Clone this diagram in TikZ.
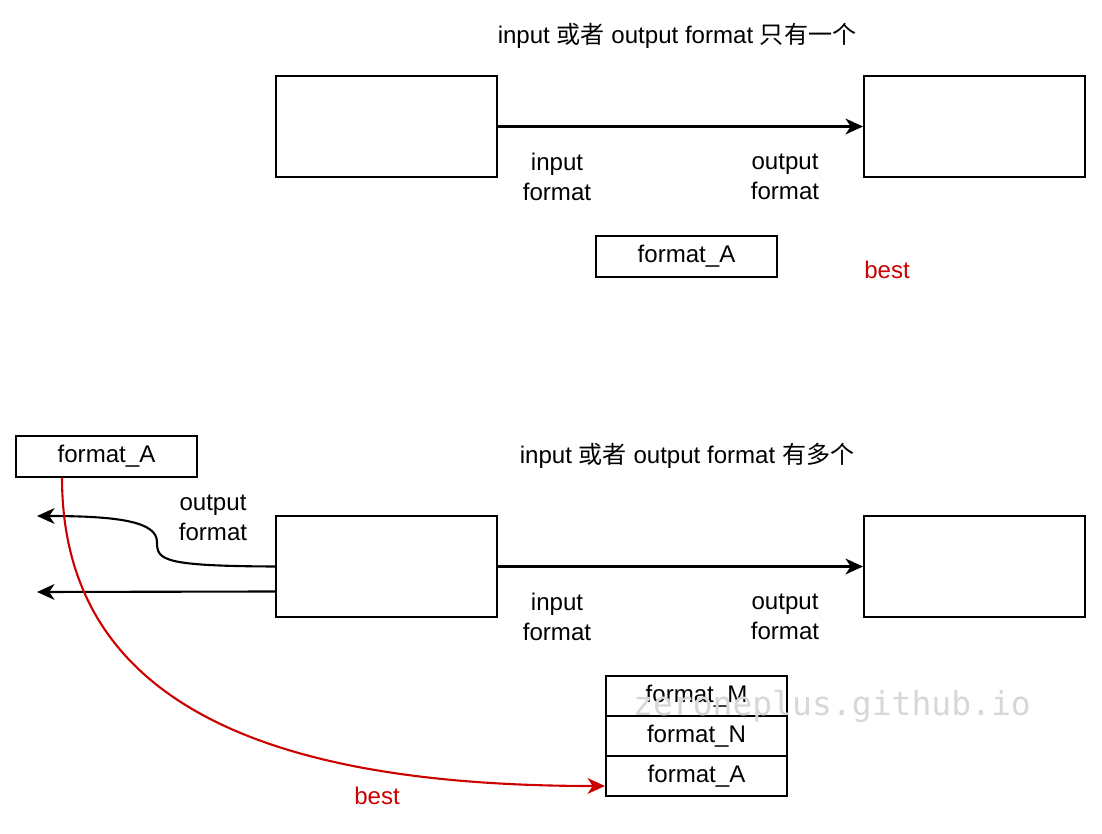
\documentclass[tikz,border=0pt]{standalone}
\usepackage{fontspec}
\setmainfont{Liberation Sans}
\newfontfamily\cjk{Noto Sans CJK SC}
\newfontfamily\wmfont{DejaVu Sans Mono}
\usetikzlibrary{arrows.meta}
\definecolor{bestred}{RGB}{204,0,0}
\definecolor{wmgray}{RGB}{215,215,215}
\tikzset{>/.tip={Stealth[length=10pt,width=9pt,inset=3pt]},
  txt/.style={font=\fontsize{13.7}{17}\selectfont, align=center, inner sep=0pt},
  blk/.style={draw, line width=1.1pt, minimum width=4.42cm, minimum height=2.02cm, inner sep=0pt},
  fmt/.style={txt, draw, line width=1.1pt, minimum width=3.62cm, minimum height=0.81cm},
  conn/.style={->, line width=1.2pt}}

\begin{document}
\begin{tikzpicture}[x=0.02cm, y=-0.02cm]
\useasboundingbox (0,0) rectangle (1102,834);
% top: one format
\node[txt] (title-1) at (677,36) {input {\cjk 或者} output format {\cjk 只有一个}};
\node[blk] (blk-1) at (386.5,126.5) {};
\node[blk] (blk-2) at (974.5,126.5) {};
\node[txt] (in-1) at (557,177) {input\\format};
\node[txt] (out-1) at (785,177) {output\\format};
\node[fmt] (fmtA-1) at (686.5,256.5) {format\_A};
\node[txt, text=bestred] (best-1) at (887,270) {best};

\draw[conn] (blk-1) -- (blk-2);

% bottom: several formats
\node[txt] (title-2) at (687,456) {input {\cjk 或者} output format {\cjk 有多个}};
\node[fmt] (fmtA-2) at (106.5,456.5) {format\_A};
\node[blk] (blk-3) at (386.5,566.5) {};
\node[blk] (blk-4) at (974.5,566.5) {};
\node[txt] (in-2) at (557,617) {input\\format};
\node[txt] (out-2) at (785,617) {output\\format};
\node[txt] (out-3) at (213,518) {output\\format};
\node[fmt] (fmtM) at (696.5,696) {format\_M};
\node[fmt] (fmtN) at (696.5,736) {format\_N};
\node[fmt] (fmtA-3) at (696.5,776) {format\_A};
\node[txt, text=bestred] (best-2) at (377,796) {best};
\coordinate (end-1) at (37,516);
\coordinate (end-2) at (37,592);

\draw[conn] (blk-3) -- (blk-4);
\draw[conn] (blk-3.west) .. controls (162,566) and (157,560) .. (157,542)
  .. controls (157,522) and (120,516) .. (end-1);
\draw[conn] ([yshift=-0.5cm]blk-3.west) -- (end-2);
\draw[conn, bestred] ([xshift=-0.89cm]fmtA-2.south) .. controls (62,720) and (300,786) .. ([yshift=-0.2cm]fmtA-3.west);

\node[font=\wmfont\fontsize{18.8}{20}\selectfont, text=wmgray] (mark) at (832,706) {zeroneplus.github.io};
\end{tikzpicture}
\end{document}
